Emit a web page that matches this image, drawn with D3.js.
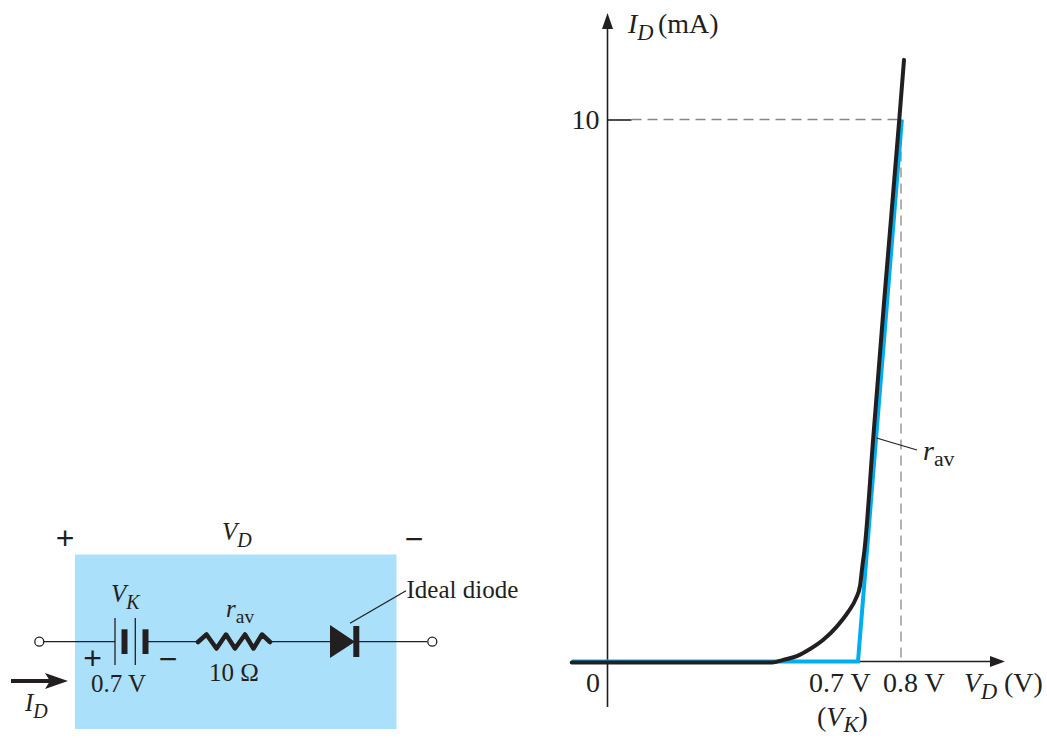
<!DOCTYPE html>
<html>
<head>
<meta charset="utf-8">
<script src="https://cdn.jsdelivr.net/npm/d3@7"></script>
<style>
  body { margin: 0; background: #fff; }
  svg { display: block; }
  text { font-family: "Liberation Serif", serif; fill: #231f20; }
  .big { font-size: 28px; }
  .small { font-size: 25px; }
  .it { font-style: italic; }
</style>
</head>
<body>
<svg width="1047" height="738"></svg>
<script>
// characteristic (V, mA)
const curveVolts = [-0.1, 0.2, 0.46, 0.491, 0.529, 0.566, 0.603, 0.64, 0.673, 0.694, 0.705, 0.71, 0.715, 0.735, 0.761, 0.796, 0.807];
const curveAmps = [-0.02, -0.02, -0.02, 0.03, 0.1, 0.23, 0.4, 0.64, 0.92, 1.16, 1.41, 1.75, 2.05, 4.08, 6.67, 10, 11.1];
const modelVolts = [-0.1, 0.7, 0.802];
const modelAmps = [0, 0, 10];
const yTicks = [10];
const xLabels = ["0.7 V", "0.8 V"];
const xLabelVolts = [0.7, 0.8];

const ink = "#231f20";
const svg = d3.select("svg");

// the axis is not to scale below the knee
const x = d3.scaleLinear().domain([0, 0.7, 0.8]).range([607.5, 858, 901]);
const y = d3.scaleLinear().domain([0, 10]).range([661.5, 119.5]);

const zip = (a, b) => a.map((d, i) => [d, b[i]]);

// dashed guides
svg.append("line")
    .attr("x1", x(0) + 24).attr("x2", x(0.8))
    .attr("y1", y(10)).attr("y2", y(10))
    .attr("stroke", "#888").attr("stroke-width", 1.3).attr("stroke-dasharray", "10 6");
svg.append("line")
    .attr("x1", x(0.8)).attr("x2", x(0.8))
    .attr("y1", y(10)).attr("y2", y(0))
    .attr("stroke", "#888").attr("stroke-width", 1.3).attr("stroke-dasharray", "10 6");

// axes
svg.append("line")
    .attr("x1", x(0)).attr("x2", x(0))
    .attr("y1", 707).attr("y2", 25)
    .attr("stroke", ink).attr("stroke-width", 1.6);
svg.append("path").attr("d", "M607.5,13 L613,29 L602,29 Z").attr("fill", ink);

svg.append("line")
    .attr("x1", x(-0.1)).attr("x2", 992)
    .attr("y1", y(0)).attr("y2", y(0))
    .attr("stroke", ink).attr("stroke-width", 1.6);
svg.append("path").attr("d", "M1005,661.5 L990,656 L990,667 Z").attr("fill", ink);

const yAxis = svg.append("g")
    .attr("transform", `translate(${x(0)},0)`)
    .call(d3.axisLeft(y).tickValues(yTicks).tickSize(-24).tickPadding(8).tickFormat(d3.format("d")));
yAxis.select(".domain").remove();
yAxis.selectAll("line").attr("stroke", ink).attr("stroke-width", 1.6);
yAxis.selectAll("text")
    .style("font-family", '"Liberation Serif", serif')
    .style("font-size", "28px");

// model and measured curve
const line = d3.line().x(d => x(d[0])).y(d => y(d[1]));
svg.append("path")
    .datum(zip(modelVolts, modelAmps))
    .attr("d", line)
    .attr("fill", "none").attr("stroke", "#00aeef").attr("stroke-width", 4);
svg.append("path")
    .datum(zip(curveVolts, curveAmps))
    .attr("d", line.curve(d3.curveMonotoneX))
    .attr("fill", "none").attr("stroke", ink).attr("stroke-width", 4).attr("stroke-linecap", "round");

// italic symbol with a subscript, optional upright rest placed at restX
function label(cls, px, py, main, sub, rest, restX) {
    const t = svg.append("text").attr("class", cls).attr("x", px).attr("y", py);
    t.append("tspan").attr("class", "it").text(main);
    t.append("tspan").attr("class", "it").attr("dy", 7)
        .style("font-size", "0.8em").text(sub);
    if (rest) {
        t.append("tspan").attr("x", restX).attr("dy", -7).text(rest);
    }
    return t;
}

// r with upright "av" below it
function ravLabel(cls, px, py) {
    const t = svg.append("text").attr("class", cls).attr("x", px).attr("y", py);
    t.append("tspan").attr("class", "it").text("r");
    t.append("tspan").attr("dy", 6).style("font-size", "0.78em").text("av");
}

label("big", 628, 33, "I", "D", "(mA)", 658);
label("big", 964, 692, "V", "D", "(V)", 1004);

svg.append("text").attr("class", "big").attr("x", 586).attr("y", 692).text("0");
svg.selectAll(".xlab")
    .data(xLabels)
    .enter()
    .append("text")
    .attr("class", "big xlab")
    .attr("x", (d, i) => x(xLabelVolts[i]) + (i == 0 ? -49 : -18))
    .attr("y", 692)
    .text(d => d);

const vk = svg.append("text").attr("class", "big").attr("x", 817).attr("y", 726);
vk.append("tspan").text("(");
vk.append("tspan").attr("class", "it").text("V");
vk.append("tspan").attr("class", "it").attr("dy", 6).style("font-size", "0.8em").text("K");
vk.append("tspan").attr("dy", -6).text(")");

// r_av callout
svg.append("line")
    .attr("x1", 876.5).attr("y1", 438).attr("x2", 917).attr("y2", 450)
    .attr("stroke", ink).attr("stroke-width", 1.3);
ravLabel("big", 923, 460);

// equivalent circuit
const wireY = 641.7;
const circuit = svg.append("g");
circuit.append("rect")
    .attr("x", 75).attr("y", 554.5).attr("width", 321.5).attr("height", 174.5)
    .attr("fill", "#abe0fb");

const wire = (x1, x2) => circuit.append("line")
    .attr("x1", x1).attr("x2", x2).attr("y1", wireY).attr("y2", wireY)
    .attr("stroke", ink).attr("stroke-width", 1.3);
wire(44, 115);
wire(148, 198);
wire(270, 330);
wire(359, 427);

[39.3, 432.3].forEach(cx => circuit.append("circle")
    .attr("cx", cx).attr("cy", wireY).attr("r", 4.5)
    .attr("fill", "#fff").attr("stroke", ink).attr("stroke-width", 1.3));

// battery plates
[115, 135.3].forEach(px => circuit.append("line")
    .attr("x1", px).attr("x2", px).attr("y1", 618).attr("y2", 665)
    .attr("stroke", ink).attr("stroke-width", 1.3));
[124.5, 145.5].forEach(px => circuit.append("line")
    .attr("x1", px).attr("x2", px).attr("y1", 629.3).attr("y2", 654)
    .attr("stroke", ink).attr("stroke-width", 6));

// resistor
circuit.append("path")
    .attr("d", "M198,642 L206.5,634.5 L216.5,648.5 L226,634.5 L235,648.5 L245,634.5 L253.5,648.5 L262,634.5 L270,642")
    .attr("fill", "none").attr("stroke", ink).attr("stroke-width", 4.5)
    .attr("stroke-linejoin", "round").attr("stroke-linecap", "round");

// ideal diode
circuit.append("path").attr("d", "M330,625 L355,641.7 L330,658 Z").attr("fill", ink);
circuit.append("rect").attr("x", 353.3).attr("y", 626).attr("width", 6).attr("height", 31).attr("fill", ink);
circuit.append("line")
    .attr("x1", 350).attr("y1", 623.3).attr("x2", 406).attr("y2", 590.7)
    .attr("stroke", ink).attr("stroke-width", 1.3);

// current arrow
circuit.append("line")
    .attr("x1", 11).attr("x2", 52).attr("y1", 681).attr("y2", 681)
    .attr("stroke", ink).attr("stroke-width", 4);
circuit.append("path").attr("d", "M68,681 L45,673 L50,681 L45,689 Z").attr("fill", ink);

// circuit text
label("small", 222, 540, "V", "D");
label("small", 111, 602, "V", "K");
label("small", 25, 711, "I", "D");
svg.append("text").attr("class", "small").attr("x", 91).attr("y", 692).text("0.7 V");
svg.append("text").attr("class", "small").attr("x", 209).attr("y", 681).text("10 Ω");
svg.append("text").attr("class", "small").attr("x", 406.5).attr("y", 598).text("Ideal diode");
ravLabel("small", 226, 617);

// polarity signs
const sign = (px, py, s) => svg.append("text")
    .attr("x", px).attr("y", py).attr("text-anchor", "middle")
    .style("font-family", '"Liberation Sans", sans-serif')
    .style("font-size", "32px")
    .text(s);
sign(65, 548.5, "+");
sign(414, 550, "−");
sign(92.7, 668.5, "+");
sign(168, 670, "−");
</script>
</body>
</html>
